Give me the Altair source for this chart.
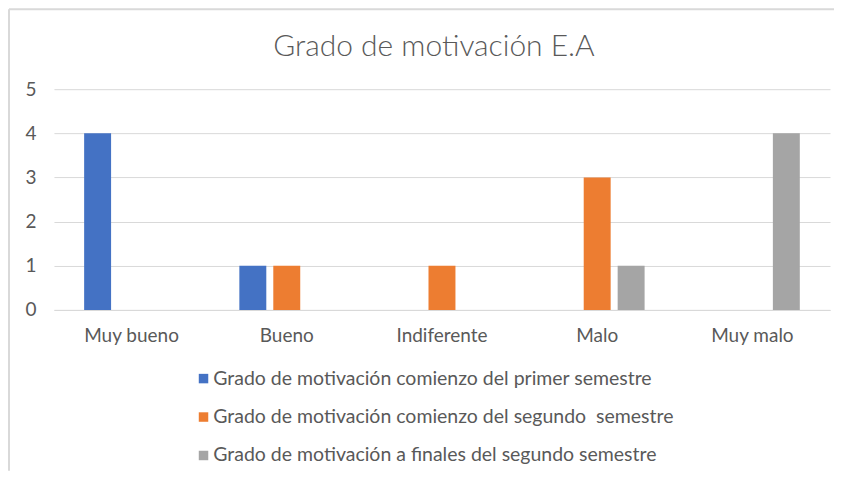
import altair as alt
import pandas as pd

categories = ["Muy bueno", "Bueno", "Indiferente", "Malo", "Muy malo"]
series = [
    "Grado de motivación comienzo del primer semestre",
    "Grado de motivación comienzo del segundo\u00a0 semestre",
    "Grado de motivación a finales del segundo semestre",
]
values_primer = [4, 1, 0, 0, 0]
values_segundo = [0, 1, 1, 3, 0]
values_finales = [0, 0, 0, 1, 4]
colors = ["#4472C4", "#ED7D31", "#A5A5A5"]

rows = []
for s, vals in zip(series, [values_primer, values_segundo, values_finales]):
    for c, v in zip(categories, vals):
        rows.append({"categoria": c, "serie": s, "valor": v})
df = pd.DataFrame(rows)

FONT = "Lato"
GREY = "#595959"

bars = alt.Chart(df).mark_bar().encode(
    x=alt.X("categoria:N", sort=categories, title=None,
            scale=alt.Scale(paddingInner=0.344, paddingOuter=0.172),
            axis=alt.Axis(labelAngle=0, labelFontSize=19, labelColor=GREY, labelFont=FONT,
                          labelPadding=17, ticks=False, domainColor="#D9D9D9", domainWidth=1)),
    xOffset=alt.XOffset("serie:N", sort=series,
                        scale=alt.Scale(paddingInner=0.206, paddingOuter=0.103)),
    y=alt.Y("valor:Q", title=None,
            scale=alt.Scale(domain=[0, 5], nice=False),
            axis=alt.Axis(values=[0, 1, 2, 3, 4, 5], format="d", labelFontSize=19, labelColor=GREY,
                          labelFont=FONT, labelPadding=18, ticks=False, domain=False,
                          gridColor="#D9D9D9", gridWidth=1)),
    color=alt.Color("serie:N", sort=series, title=None,
                    scale=alt.Scale(domain=series, range=colors),
                    legend=alt.Legend(orient="none", legendX=140, legendY=280, direction="vertical",
                                      symbolType="square", symbolSize=90, symbolStrokeWidth=0,
                                      labelFontSize=19.5, labelColor=GREY, labelFont=FONT,
                                      labelOffset=0, rowPadding=17.5, labelLimit=600)),
)

frame = alt.Data(values=[{}])
left_line = alt.Chart(frame).mark_rule(color="#D9D9D9", strokeWidth=2).encode(
    x=alt.value(-45), y=alt.value(-80), y2=alt.value(382))
top_line = alt.Chart(frame).mark_rule(color="#D9D9D9", strokeWidth=2).encode(
    x=alt.value(-45), x2=alt.value(781), y=alt.value(-80))

chart = alt.layer(bars, left_line, top_line).properties(
    width=777, height=221, padding=0,
    title=alt.TitleParams("Grado de motivación E.A", fontSize=30, font=FONT, fontWeight=300,
                          color=GREY, anchor="middle", offset=-54, dx=-8),
).configure_view(strokeWidth=0)

chart.save("out.html", embed_options={"renderer": "svg", "actions": False})
